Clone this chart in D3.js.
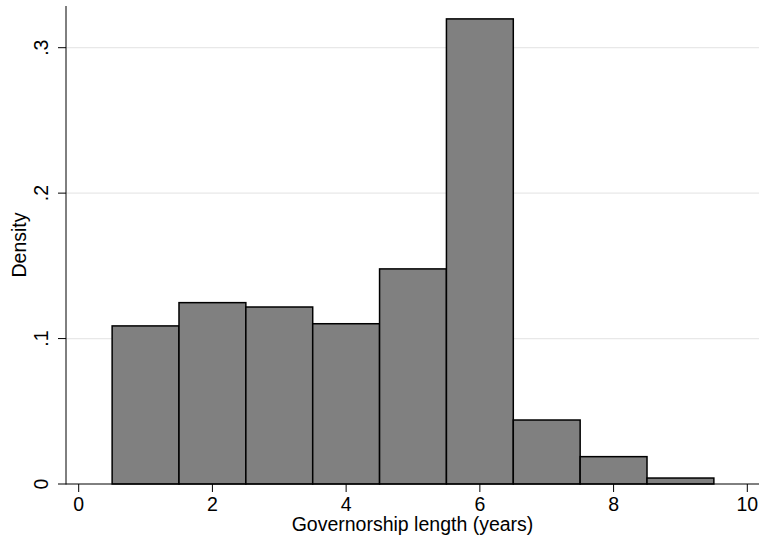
<!DOCTYPE html>
<html><head><meta charset="utf-8">
<script src="https://cdn.jsdelivr.net/npm/d3@7"></script>
<style>body{margin:0;background:#fff}</style>
</head><body>
<svg id="c" width="759" height="540"></svg>
<script>
const binStarts = [0.5,1.5,2.5,3.5,4.5,5.5,6.5,7.5,8.5];
const binWidth = 1;
const densities = [0.1087,0.1247,0.1217,0.1102,0.1479,0.3198,0.0440,0.0188,0.0041];
const xTicks = [0,2,4,6,8,10];
const yTicks = [0,0.1,0.2,0.3];
const yTickLabels = ["0",".1",".2",".3"];

const svg = d3.select("#c");
const x = d3.scaleLinear().domain([0,10]).range([78.7,747.3]);
const y = d3.scaleLinear().domain([0,0.3]).range([484,47.7]);
const font = "'Liberation Sans', Arial, sans-serif";
const fs = 19.5;

// gridlines
svg.append("g").selectAll("line").data(yTicks.slice(1)).join("line")
  .attr("x1",66).attr("x2",759).attr("y1",d=>y(d)).attr("y2",d=>y(d))
  .attr("stroke","#e8e8e8").attr("stroke-width",1.3);

// bars
svg.append("g").selectAll("rect").data(densities).join("rect")
  .attr("x",(d,i)=>x(binStarts[i]))
  .attr("width",(d,i)=>x(binStarts[i]+binWidth)-x(binStarts[i]))
  .attr("y",d=>y(d)).attr("height",d=>y(0)-y(d))
  .attr("fill","#808080").attr("stroke","#000").attr("stroke-width",1.5);

// x axis
const xa = svg.append("g").attr("transform","translate(0,484)");
xa.append("line").attr("x1",66).attr("x2",759).attr("stroke","#000").attr("stroke-width",1);
xa.selectAll("line.t").data(xTicks).join("line").attr("class","t")
  .attr("x1",d=>x(d)).attr("x2",d=>x(d)).attr("y1",0).attr("y2",8).attr("stroke","#000");
xa.selectAll("text").data(xTicks).join("text")
  .attr("x",d=>x(d)).attr("y",26.5).attr("text-anchor","middle")
  .attr("font-family",font).attr("font-size",fs).text(d=>d);

// y axis
const ya = svg.append("g").attr("transform","translate(66,0)");
ya.append("line").attr("y1",6).attr("y2",484.5).attr("stroke","#000");
ya.selectAll("line.t").data(yTicks).join("line").attr("class","t")
  .attr("x1",-8).attr("x2",0).attr("y1",d=>y(d)).attr("y2",d=>y(d)).attr("stroke","#000");
ya.selectAll("text").data(yTicks).join("text")
  .attr("transform",d=>`translate(-18,${y(d)}) rotate(-90)`)
  .attr("text-anchor","middle").attr("font-family",font).attr("font-size",fs)
  .text((d,i)=>yTickLabels[i]);

// axis titles
svg.append("text").attr("x",412.5).attr("y",530.5).attr("text-anchor","middle")
  .attr("font-family",font).attr("font-size",fs).text("Governorship length (years)");
svg.append("text").attr("transform","translate(26,245) rotate(-90)")
  .attr("text-anchor","middle").attr("font-family",font).attr("font-size",fs).text("Density");
</script>
</body></html>
